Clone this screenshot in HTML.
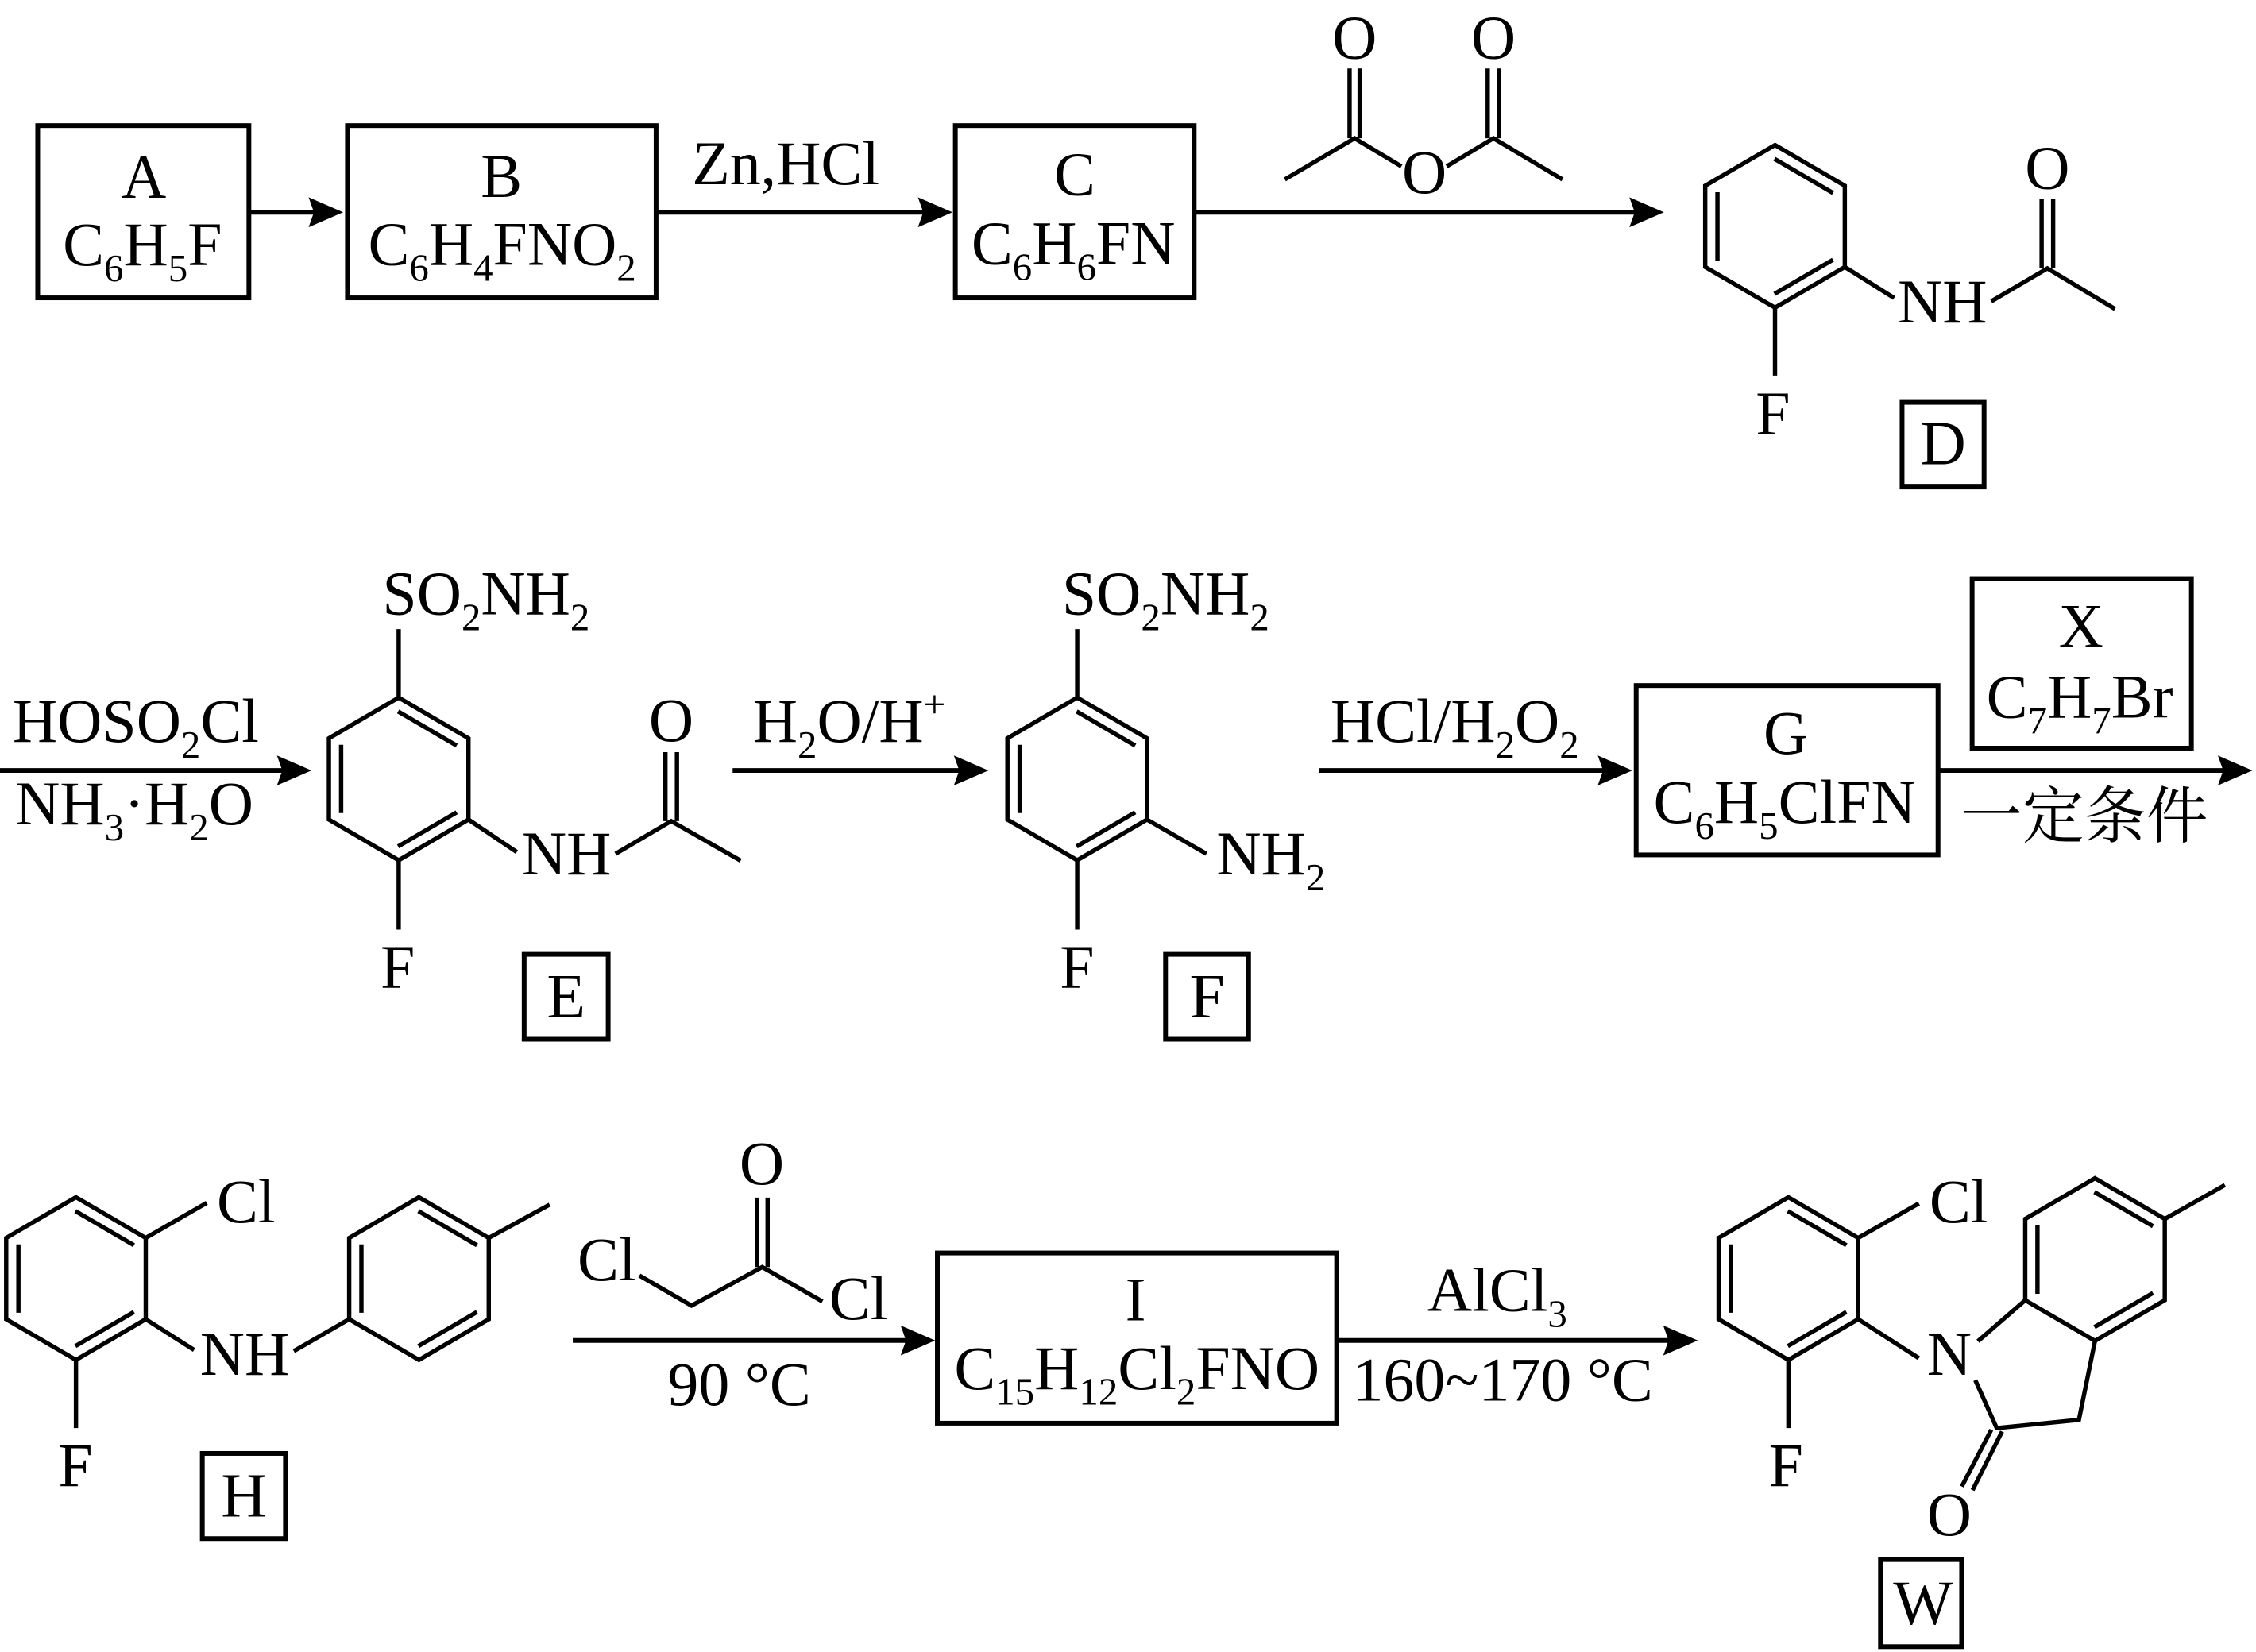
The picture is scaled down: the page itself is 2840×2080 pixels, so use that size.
<!DOCTYPE html>
<html>
<head>
<meta charset="utf-8">
<style>
html,body{margin:0;padding:0;background:#fff;overflow:hidden;}
svg{display:block;}
</style>
</head>
<body>
<svg xmlns="http://www.w3.org/2000/svg" xmlns:xlink="http://www.w3.org/1999/xlink" width="2840" height="2080" viewBox="0 0 1568 1148" preserveAspectRatio="none">
<defs>
  <g id="ring">
    <polygon points="0,-56.5 48.5,-28.25 48.5,28.25 0,56.5 -48.5,28.25 -48.5,-28.25" fill="none"/>
    <line x1="-0.4" y1="-46.9" x2="40.3" y2="-23.2"/>
    <line x1="-40" y1="-23.75" x2="-40" y2="23.75"/>
    <line x1="40.3" y1="23.2" x2="-0.4" y2="46.9"/>
  </g>
  <polygon id="ah" points="0,0 -24,-10.4 -20.3,0 -24,10.4"/>
</defs>
<rect x="0" y="0" width="1568" height="1148" fill="#fff"/>

<!-- Boxes -->
<g fill="none" stroke="#000" stroke-width="3.3">
  <rect x="26.2" y="87.3" width="146.8" height="119.7"/>
  <rect x="241.5" y="87.3" width="214.5" height="119.7"/>
  <rect x="664" y="87.3" width="166" height="119.7"/>
  <rect x="1137.2" y="476.4" width="209.8" height="117.7"/>
  <rect x="1370.7" y="402.1" width="152.4" height="117.8"/>
  <rect x="651.5" y="870.7" width="277.5" height="118.3"/>
  <!-- label boxes -->
  <rect x="1322" y="279.6" width="57" height="58.8"/>
  <rect x="364.3" y="663.2" width="58.4" height="59"/>
  <rect x="810.1" y="663.2" width="57.7" height="59"/>
  <rect x="140.6" y="1010" width="57.8" height="59.2"/>
  <rect x="1307" y="1083.8" width="56.4" height="60.5"/>
</g>

<!-- Arrows -->
<g stroke="#000" stroke-width="3.3">
  <line x1="173" y1="147.5" x2="230" y2="147.5"/>
  <line x1="456" y1="147.5" x2="654" y2="147.5"/>
  <line x1="830" y1="147.5" x2="1148" y2="147.5"/>
  <line x1="0" y1="535.4" x2="208" y2="535.4"/>
  <line x1="509.2" y1="535.4" x2="679" y2="535.4"/>
  <line x1="916.6" y1="535.4" x2="1126" y2="535.4"/>
  <line x1="1347" y1="535.4" x2="1557" y2="535.4"/>
  <line x1="398.1" y1="931.5" x2="641" y2="931.5"/>
  <line x1="929" y1="931.5" x2="1172" y2="931.5"/>
</g>
<g fill="#000">
  <use xlink:href="#ah" href="#ah" transform="translate(238.5,147.5)"/>
  <use xlink:href="#ah" href="#ah" transform="translate(662,147.5)"/>
  <use xlink:href="#ah" href="#ah" transform="translate(1156.5,147.5)"/>
  <use xlink:href="#ah" href="#ah" transform="translate(216.5,535.4)"/>
  <use xlink:href="#ah" href="#ah" transform="translate(687,535.4)"/>
  <use xlink:href="#ah" href="#ah" transform="translate(1134.5,535.4)"/>
  <use xlink:href="#ah" href="#ah" transform="translate(1565.5,535.4)"/>
  <use xlink:href="#ah" href="#ah" transform="translate(650,931.5)"/>
  <use xlink:href="#ah" href="#ah" transform="translate(1180,931.5)"/>
</g>

<!-- Bonds -->
<g fill="none" stroke="#000" stroke-width="3" stroke-linejoin="miter" stroke-linecap="butt">
  <!-- rings -->
  <use xlink:href="#ring" href="#ring" transform="translate(1233.7,157.3)"/>
  <use xlink:href="#ring" href="#ring" transform="translate(277.1,541.3)"/>
  <use xlink:href="#ring" href="#ring" transform="translate(748.7,541.3)"/>
  <use xlink:href="#ring" href="#ring" transform="translate(52.8,888.5)"/>
  <use xlink:href="#ring" href="#ring" transform="translate(291.2,888.5)"/>
  <use xlink:href="#ring" href="#ring" transform="translate(1243,888.5)"/>
  <use xlink:href="#ring" href="#ring" transform="translate(1456.1,875.3)"/>

  <!-- acetic anhydride -->
  <polyline points="893,124.7 941.5,96.1 974,115.6"/>
  <polyline points="1005.5,115.6 1038,96.1 1086,124.7"/>
  <line x1="938" y1="47.6" x2="938" y2="96.1"/>
  <line x1="945" y1="47.6" x2="945" y2="96.1"/>
  <line x1="1034" y1="47.6" x2="1034" y2="96.1"/>
  <line x1="1042" y1="47.6" x2="1042" y2="96.1"/>

  <!-- D -->
  <line x1="1233.7" y1="213.8" x2="1233.7" y2="261"/>
  <line x1="1282.2" y1="185.55" x2="1316.5" y2="207.1"/>
  <polyline points="1384,209.4 1423,186.5 1470,214.7"/>
  <line x1="1419" y1="138.5" x2="1419" y2="186.5"/>
  <line x1="1427" y1="138.5" x2="1427" y2="186.5"/>

  <!-- E -->
  <line x1="277.1" y1="484.8" x2="277.1" y2="437.2"/>
  <line x1="277.1" y1="597.8" x2="277.1" y2="646"/>
  <line x1="325.6" y1="569.55" x2="359.2" y2="592.1"/>
  <polyline points="427.8,593.3 466.5,570.6 514.8,598.1"/>
  <line x1="462.5" y1="522.7" x2="462.5" y2="570.6"/>
  <line x1="470.5" y1="522.7" x2="470.5" y2="570.6"/>

  <!-- F -->
  <line x1="748.7" y1="484.8" x2="748.7" y2="437.2"/>
  <line x1="748.7" y1="597.8" x2="748.7" y2="646"/>
  <line x1="797.2" y1="569.55" x2="838.5" y2="593.3"/>

  <!-- H -->
  <line x1="101.3" y1="860.25" x2="143.7" y2="835.9"/>
  <line x1="101.3" y1="916.75" x2="134.9" y2="938.1"/>
  <line x1="204.2" y1="938.9" x2="242.7" y2="916.75"/>
  <line x1="339.7" y1="860.25" x2="382" y2="837.1"/>
  <line x1="52.8" y1="945" x2="52.8" y2="992.4"/>

  <!-- chloroacetyl chloride -->
  <polyline points="444.4,886.4 480.6,907.3 529.8,880.5 571.6,904.4"/>
  <line x1="526.2" y1="832.2" x2="526.2" y2="880.5"/>
  <line x1="533.5" y1="832.2" x2="533.5" y2="880.5"/>

  <!-- W -->
  <line x1="1291.5" y1="860.25" x2="1333.7" y2="836.3"/>
  <line x1="1291.5" y1="916.75" x2="1333.7" y2="943.8"/>
  <line x1="1243" y1="945" x2="1243" y2="992.4"/>
  <line x1="1374.7" y1="932" x2="1407.6" y2="903.55"/>
  <line x1="1504.6" y1="847.05" x2="1546.4" y2="823.5"/>
  <polyline points="1456.1,931.8 1444.9,986.7 1387.8,992.4 1372.9,959.1"/>
  <line x1="1384" y1="993.6" x2="1363.5" y2="1033"/>
  <line x1="1391.5" y1="994.8" x2="1371" y2="1035.5"/>
</g>

<!-- Text -->
<g font-family="'Liberation Serif', 'Times New Roman', serif" font-size="43" fill="#000">
  <!-- Row 1 -->
  <text x="100" y="137.3" text-anchor="middle">A</text>
  <text x="99" y="184.3" text-anchor="middle">C<tspan font-size="27" dy="11">6</tspan><tspan dy="-11">H</tspan><tspan font-size="27" dy="11">5</tspan><tspan dy="-11">F</tspan></text>
  <text x="348.5" y="137" text-anchor="middle">B</text>
  <text x="349" y="184" text-anchor="middle">C<tspan font-size="27" dy="11">6</tspan><tspan dy="-11">H</tspan><tspan font-size="27" dy="11">4</tspan><tspan dy="-11">FNO</tspan><tspan font-size="27" dy="11">2</tspan></text>
  <text x="481" y="128" >Zn,HCl</text>
  <text x="747" y="135.5" text-anchor="middle">C</text>
  <text x="746" y="183.5" text-anchor="middle">C<tspan font-size="27" dy="11">6</tspan><tspan dy="-11">H</tspan><tspan font-size="27" dy="11">6</tspan><tspan dy="-11">FN</tspan></text>

  <text x="941.5" y="40.6" text-anchor="middle">O</text>
  <text x="1038" y="40.6" text-anchor="middle">O</text>
  <text x="990" y="134" text-anchor="middle">O</text>

  <text x="1232.3" y="302" text-anchor="middle">F</text>
  <text x="1319" y="224">NH</text>
  <text x="1423" y="131" text-anchor="middle">O</text>
  <text x="1350.5" y="322.7" text-anchor="middle" font-size="44">D</text>

  <!-- Row 2 -->
  <text x="8.8" y="515.5">HOSO<tspan font-size="27" dy="11">2</tspan><tspan dy="-11">Cl</tspan></text>
  <text x="10.6" y="573">NH<tspan font-size="27" dy="11">3</tspan><tspan dy="-11">·H</tspan><tspan font-size="27" dy="11">2</tspan><tspan dy="-11">O</tspan></text>

  <text x="265.8" y="427">SO<tspan font-size="27" dy="11">2</tspan><tspan dy="-11">NH</tspan><tspan font-size="27" dy="11">2</tspan></text>
  <text x="276.4" y="686.7" text-anchor="middle">F</text>
  <text x="362.7" y="607.7">NH</text>
  <text x="466.5" y="515" text-anchor="middle">O</text>
  <text x="393.5" y="707" text-anchor="middle" font-size="44">E</text>

  <text x="523.3" y="515.5">H<tspan font-size="27" dy="11">2</tspan><tspan dy="-11">O/H</tspan><tspan font-size="27" dy="-17">+</tspan></text>

  <text x="738.1" y="427">SO<tspan font-size="27" dy="11">2</tspan><tspan dy="-11">NH</tspan><tspan font-size="27" dy="11">2</tspan></text>
  <text x="845.5" y="607.7">NH<tspan font-size="27" dy="11">2</tspan></text>
  <text x="748.6" y="686.7" text-anchor="middle">F</text>
  <text x="839" y="707" text-anchor="middle" font-size="44">F</text>

  <text x="924.7" y="515.5">HCl/H<tspan font-size="27" dy="11">2</tspan><tspan dy="-11">O</tspan><tspan font-size="27" dy="11">2</tspan></text>

  <text x="1241.2" y="523.9" text-anchor="middle">G</text>
  <text x="1240.4" y="571.8" text-anchor="middle">C<tspan font-size="27" dy="11">6</tspan><tspan dy="-11">H</tspan><tspan font-size="27" dy="11">5</tspan><tspan dy="-11">ClFN</tspan></text>

  <text x="1446.4" y="449.6" text-anchor="middle">X</text>
  <text x="1445.5" y="498.7" text-anchor="middle">C<tspan font-size="27" dy="11">7</tspan><tspan dy="-11">H</tspan><tspan font-size="27" dy="11">7</tspan><tspan dy="-11">Br</tspan></text>

  <text x="1362.7" y="582" font-family="'Liberation Serif', 'Noto Serif CJK SC', 'Noto Sans CJK SC', serif">一定条件</text>

  <!-- Row 3 -->
  <text x="150.7" y="849.4">Cl</text>
  <text x="139" y="955.4">NH</text>
  <text x="52.5" y="1033" text-anchor="middle">F</text>
  <text x="169.5" y="1054" text-anchor="middle" font-size="44">H</text>

  <text x="401.4" y="889.6">Cl</text>
  <text x="529.5" y="823" text-anchor="middle">O</text>
  <text x="576.3" y="916.7">Cl</text>
  <text x="464" y="976.3">90 °C</text>

  <text x="789.3" y="917.7" text-anchor="middle">I</text>
  <text x="790.2" y="965.2" text-anchor="middle">C<tspan font-size="27" dy="11">15</tspan><tspan dy="-11">H</tspan><tspan font-size="27" dy="11">12</tspan><tspan dy="-11">Cl</tspan><tspan font-size="27" dy="11">2</tspan><tspan dy="-11">FNO</tspan></text>

  <text x="992.1" y="911">AlCl<tspan font-size="27" dy="11">3</tspan></text>
  <text x="940" y="973.4">160~170 °C</text>

  <text x="1341" y="849.4">Cl</text>
  <text x="1339.3" y="955.4">N</text>
  <text x="1241.3" y="1033" text-anchor="middle">F</text>
  <text x="1354.8" y="1067" text-anchor="middle">O</text>
  <text x="1336.6" y="1128.6" text-anchor="middle" font-size="44">W</text>
</g>
</svg>
</body>
</html>
